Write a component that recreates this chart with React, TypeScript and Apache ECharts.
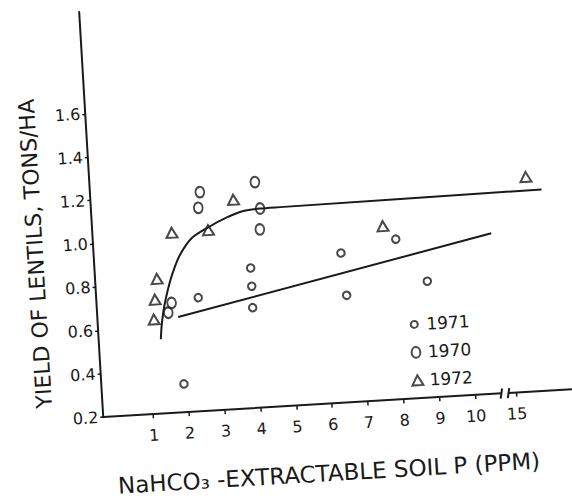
import React, { useEffect, useRef } from 'react';
import * as echarts from 'echarts';

// ---- data ----
const xTickValues = [1, 2, 3, 4, 5, 6, 7, 8, 9, 10, 15];
const yTickValues = [0.2, 0.4, 0.6, 0.8, 1.0, 1.2, 1.4, 1.6];

const data1971 = [
  [2.45, 0.724], [3.96, 0.846], [3.96, 0.762], [3.95, 0.663], [6.5, 0.89],
  [6.59, 0.694], [8.05, 0.939], [8.86, 0.737], [1.91, 0.331],
];
const data1970 = [
  [4.22, 1.24], [4.32, 1.117], [4.28, 1.021], [2.67, 1.209], [2.6, 1.137],
  [1.7, 0.707], [1.59, 0.663],
];
const data1972 = [
  [3.59, 1.165], [1.82, 1.03], [2.84, 1.032], [1.33, 0.822], [1.24, 0.727],
  [1.18, 0.636], [7.71, 1.003], [15.63, 1.19],
];
const fit1972Curve = [
  [1.34, 0.543], [1.38, 0.6], [1.47, 0.68], [1.6, 0.76], [1.78, 0.845],
  [2.01, 0.925], [2.37, 1.0], [2.85, 1.045], [3.38, 1.085], [3.85, 1.11],
  [4.32, 1.117], [4.88, 1.118], [16.05, 1.128],
];
const fit1971Line = [[1.86, 0.64], [10.72, 0.94]];

const X_MIN = -0.394;
const X_MAX = 16.775;
const Y_MIN = 0.2;
const Y_MAX = 2.07;
const BREAK_START = 10.737;
const BREAK_END = 14.793;
const BREAK_GAP = 0.2;

const ink = '#1a1a1a';
const font = 'DejaVu Sans';

const icon1971 = 'path://M0,0M14,12M7,2.5A3.5,3.5 0 1,1 7,9.5A3.5,3.5 0 1,1 7,2.5Z';
const icon1970 = 'path://M0,0M14,12M7,0.65A4.35,5.35 0 1,1 7,11.35A4.35,5.35 0 1,1 7,0.65Z';
const icon1972 = 'path://M0,0M14,12M7,1L12.5,11L1.5,11Z';
const ellipseSymbol = 'path://M5,0A5,6 0 1,1 5,12A5,6 0 1,1 5,0Z';

export default function App() {
  const ref = useRef<HTMLDivElement>(null);

  useEffect(() => {
    if (!ref.current) return;
    const chart = echarts.init(ref.current, undefined, { renderer: 'svg' });
    const markerStyle = { color: 'rgba(0,0,0,0)', borderColor: ink, borderWidth: 2 };
    const option: any = {
      animation: false,
      backgroundColor: '#fff',
      grid: { left: 103, top: 11.4, width: 477, height: 405.8 },
      xAxis: {
        type: 'value',
        min: X_MIN,
        max: X_MAX,
        breaks: [{ start: BREAK_START, end: BREAK_END, gap: BREAK_GAP }],
        breakArea: { show: false },
        axisLine: { show: true, onZero: false, lineStyle: { color: ink, width: 2 } },
        axisTick: { show: true, customValues: xTickValues, length: 4, lineStyle: { color: ink, width: 1.5 } },
        axisLabel: { customValues: xTickValues, margin: 13, color: ink, fontSize: 16, fontFamily: font },
        splitLine: { show: false },
      },
      yAxis: {
        type: 'value',
        min: Y_MIN,
        max: Y_MAX,
        axisLine: { show: true, onZero: false, lineStyle: { color: ink, width: 2 } },
        axisTick: { show: true, customValues: yTickValues, length: 3, lineStyle: { color: ink, width: 1.5 } },
        axisLabel: {
          customValues: yTickValues,
          margin: 5,
          color: ink,
          fontSize: 16,
          fontFamily: font,
          formatter: (v: number) => v.toFixed(1),
        },
        splitLine: { show: false },
      },
      legend: {
        orient: 'vertical',
        left: 406,
        top: 328,
        itemWidth: 14,
        itemHeight: 12,
        itemGap: 8,
        selectedMode: false,
        textStyle: { color: ink, fontSize: 17, fontFamily: font, lineHeight: 20 },
        itemStyle: markerStyle,
        data: [
          { name: '1971', icon: icon1971 },
          { name: '1970', icon: icon1970 },
          { name: '1972', icon: icon1972 },
        ],
      },
      series: [
        { name: '1971', type: 'scatter', data: data1971, symbol: 'circle', symbolSize: 7.5, itemStyle: markerStyle },
        { name: '1970', type: 'scatter', data: data1970, symbol: ellipseSymbol, symbolSize: [8.7, 10.7], itemStyle: markerStyle },
        { name: '1972', type: 'scatter', data: data1972, symbol: 'triangle', symbolSize: [11, 10], itemStyle: markerStyle },
        {
          name: 'fit 1972', type: 'line', data: fit1972Curve, showSymbol: false, symbol: 'none',
          smooth: 0.25, lineStyle: { color: ink, width: 2 }, z: 3, silent: true,
        },
        {
          name: 'fit 1970-71', type: 'line', data: fit1971Line, showSymbol: false, symbol: 'none',
          lineStyle: { color: ink, width: 2 }, z: 3, silent: true,
        },
      ],
    };
    chart.setOption(option);

    const graphics: any[] = [
      {
        type: 'text', x: 45, y: 250, rotation: Math.PI / 2, z: 100,
        style: { text: 'YIELD OF LENTILS, TONS/HA', fontSize: 22, fontFamily: font, fill: ink, align: 'center', verticalAlign: 'middle' },
      },
      {
        type: 'text', x: 325, y: 486.5, z: 100,
        style: { text: 'NaHCO\u2083 -EXTRACTABLE SOIL P (PPM)', fontSize: 23, fontFamily: font, fill: ink, align: 'center', verticalAlign: 'middle' },
      },
    ];
    const y0 = chart.convertToPixel({ yAxisIndex: 0 }, Y_MIN) as number;
    const xa = chart.convertToPixel({ xAxisIndex: 0 }, BREAK_START) as number;
    const xb = chart.convertToPixel({ xAxisIndex: 0 }, BREAK_END) as number;
    if (isFinite(y0) && isFinite(xa) && isFinite(xb)) {
      graphics.push(
        { type: 'rect', z: 100, shape: { x: xa, y: y0 - 3, width: xb - xa, height: 6 }, style: { fill: '#fff' } },
        { type: 'line', z: 101, shape: { x1: xa - 1, y1: y0 + 5, x2: xa + 1, y2: y0 - 5 }, style: { stroke: ink, lineWidth: 2 } },
        { type: 'line', z: 101, shape: { x1: xb - 1, y1: y0 + 5, x2: xb + 1, y2: y0 - 5 }, style: { stroke: ink, lineWidth: 2 } },
      );
    }
    chart.setOption({ graphic: graphics });

    return () => chart.dispose();
  }, []);

  return (
    <div style={{ position: 'absolute', left: 0, top: 0, width: 572, height: 501, overflow: 'hidden', background: '#fff' }}>
      <div
        ref={ref}
        style={{
          position: 'absolute', left: 0, top: 0, width: 600, height: 520,
          transform: 'rotate(-3.4deg)', transformOrigin: '103px 413px',
        }}
      />
    </div>
  );
}
